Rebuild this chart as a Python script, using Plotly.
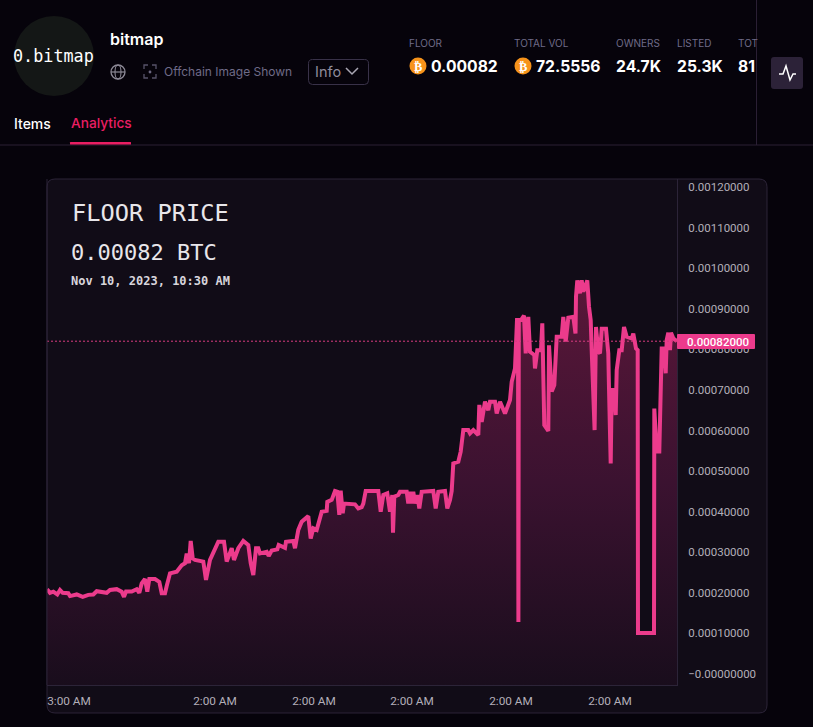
"""Floor price chart for the bitmap collection page."""

import plotly.graph_objects as go

WIDTH = 813
HEIGHT = 727

PAGE_BG = "#06030b"
CARD_BG = "#110c17"
BORDER = "#2c2438"
PINK = "#ec3b8c"
MUTED = "#6f6b88"
UI_FONT = "Inter"
MONO_FONT = "DejaVu Sans Mono"

# time in chart steps from the left edge, price in 1e-5 BTC
time_steps = [
    0, 3, 6.3, 10.3, 13, 15.7, 21.3, 23, 29.7, 35.7, 41.3, 46.3, 49.7, 56.3, 59.7, 63, 69.7, 74.7, 77, 79,
    84.7, 89.7, 92.3, 94.7, 98, 100.3, 102.3, 108, 112.3, 114.7, 118, 119.7, 123, 129.7, 134.7, 138, 139.7,
    142, 143.7, 145.7, 148, 156.3, 159, 163, 166.3, 171.3, 177, 179.7, 184.7, 187, 191.3, 196.3, 201.3,
    203.7, 206.3, 209, 211.3, 213, 219.7, 221.7, 224.7, 230.3, 231.7, 238, 239, 246.3, 248, 251.3, 254.7,
    261.3, 263.7, 266.3, 269.7, 274.7, 279.7, 280.3, 284.7, 288, 290.3, 292.3, 293.7, 295.7, 297, 308,
    311.3, 314.7, 316.3, 318.7, 331.3, 333.7, 336.3, 340.3, 343, 345.3, 346, 347.3, 351.3, 353, 359.7,
    361.3, 363, 364.7, 366.3, 368, 370.3, 372.3, 374.7, 386.3, 388.7, 391.3, 398, 400.3, 403, 404.7, 406.3,
    411.3, 413.7, 416.3, 421.3, 423, 426.3, 429.7, 431.3, 432.3, 434.7, 438, 441.3, 443, 448, 449.7, 453,
    458, 463, 464.7, 468, 470, 471, 471.4, 471.8, 474, 477, 478.7, 481.3, 483, 487.3, 488, 490.3, 494,
    495.3, 497.3, 501.3, 502, 504.7, 507.3, 509.7, 514.7, 516.3, 518.7, 521.3, 526.3, 528.5, 529, 530.3,
    533, 534.7, 536.3, 540.3, 542, 543.7, 544.7, 547, 547.6, 549, 551.3, 553, 554.7, 559, 561.3, 562, 563.7,
    564.7, 567, 568.7, 569.7, 572.3, 574.7, 577, 579.7, 584.7, 586.3, 589, 590.7, 591, 607, 607.3, 609.7,
    612.3, 613, 614.7, 617, 618.7, 619.7, 621.3, 623, 624, 626.3, 629, 630,
]
floor_price = [
    20.9, 20.0, 20.3, 19.6, 20.7, 20.0, 19.9, 19.2, 19.6, 19.0, 19.5, 19.6, 20.4, 20.3, 20.0, 20.7, 20.9, 20.3, 19.0, 20.3,
    20.3, 20.9, 20.0, 22.3, 23.4, 20.3, 23.4, 23.4, 22.7, 19.9, 19.9, 21.7, 24.8, 25.2, 26.8, 27.3, 29.7,
    27.3, 32.8, 28.5, 28.1, 27.7, 23.2, 28.1, 30.1, 32.6, 32.6, 27.7, 31.0, 28.1, 31.0, 32.8, 31.8,
    27.3, 24.4, 31.0, 31.0, 29.7, 30.1, 29.1, 30.4, 30.7, 31.8, 31.1, 32.6, 32.8, 31.0, 35.5, 37.5,
    38.9, 33.4, 35.9, 35.5, 40.0, 40.2, 42.4, 42.9, 45.1, 44.9, 39.2, 45.2, 39.6, 42.0, 41.8,
    40.8, 41.1, 42.0, 45.1, 45.1, 40.0, 44.1, 44.5, 40.0, 44.1, 34.8, 43.7, 44.1, 44.9, 44.9,
    42.0, 44.9, 42.0, 44.9, 42.0, 44.1, 40.8, 44.9, 45.1, 40.8, 44.9, 45.1, 40.8, 42.9, 45.1, 51.9,
    52.3, 54.8, 60.1, 60.1, 59.3, 60.1, 59.3, 58.9, 66.3, 62.1, 67.1, 65.0, 67.1, 67.1, 64.2, 67.1,
    64.2, 67.5, 72.0, 75.3, 87.2, 87.2, 12.8, 87.2, 87.2, 88.3, 79.0, 88.0, 79.4, 78.6, 75.3, 79.8, 79.8,
    86.4, 61.3, 59.9, 81.0, 69.6, 71.2, 83.1, 83.1, 88.0, 81.9, 87.8, 88.0, 83.9, 93.0, 97.0,
    93.8, 97.0, 94.2, 97.0, 90.5, 87.2, 79.8, 60.1, 60.1, 85.5, 79.4, 79.0, 85.1, 85.1, 79.0, 70.4, 51.9,
    70.0, 70.0, 63.8, 74.9, 79.8, 79.8, 85.5, 83.1, 82.7, 83.9, 80.2, 79.8, 10.1, 10.1, 65.4, 54.8,
    54.8, 60.1, 80.2, 80.2, 74.1, 82.3, 84.1, 79.8, 84.1, 82.7, 82.3, 82.0,
]

x_tick_steps = [22, 168, 267, 365, 464, 563]
x_tick_labels = ["3:00 AM", "2:00 AM", "2:00 AM", "2:00 AM", "2:00 AM", "2:00 AM"]
y_tick_values = [0.0012, 0.0011, 0.0010, 0.0009, 0.0008, 0.0007, 0.0006, 0.0005, 0.0004, 0.0003, 0.0002, 0.0001, 0.0]
y_tick_labels = [
    "0.00120000", "0.00110000", "0.00100000", "0.00090000", "0.00080000", "0.00070000", "0.00060000",
    "0.00050000", "0.00040000", "0.00030000", "0.00020000", "0.00010000", "−0.00000000",
]
last_price = 0.00082

stat_labels = ["FLOOR", "TOTAL VOL", "OWNERS", "LISTED", "TOT"]
stat_values = ["0.00082", "72.5556", "24.7K", "25.3K", "81"]
stat_label_left = [409, 514, 616, 677, 738]
stat_value_left = [431, 536, 616, 677, 738]

Y_BOTTOM = -0.0000271
Y_TOP = 0.0012197
X_END = 630


def fx(px):
    return px / WIDTH


def fy(py):
    return 1 - py / HEIGHT


def page_path(points, close=False):
    parts = [f"{'M' if i == 0 else 'L'} {fx(x):.5f} {fy(y):.5f}" for i, (x, y) in enumerate(points)]
    return " ".join(parts) + (" Z" if close else "")


def rounded_rect(x0, y0, x1, y1, r):
    return (
        f"M {fx(x0 + r):.5f} {fy(y0):.5f} L {fx(x1 - r):.5f} {fy(y0):.5f} "
        f"Q {fx(x1):.5f} {fy(y0):.5f} {fx(x1):.5f} {fy(y0 + r):.5f} L {fx(x1):.5f} {fy(y1 - r):.5f} "
        f"Q {fx(x1):.5f} {fy(y1):.5f} {fx(x1 - r):.5f} {fy(y1):.5f} L {fx(x0 + r):.5f} {fy(y1):.5f} "
        f"Q {fx(x0):.5f} {fy(y1):.5f} {fx(x0):.5f} {fy(y1 - r):.5f} L {fx(x0):.5f} {fy(y0 + r):.5f} "
        f"Q {fx(x0):.5f} {fy(y0):.5f} {fx(x0 + r):.5f} {fy(y0):.5f} Z"
    )


def add_path(fig, path, line_color=None, fill=None, width=1, layer="above"):
    fig.add_shape(
        type="path", path=path, xref="paper", yref="paper", layer=layer,
        line={"color": line_color or "rgba(0,0,0,0)", "width": width},
        fillcolor=fill or "rgba(0,0,0,0)",
    )


def add_ellipse(fig, cx, cy, rx, ry, line_color=None, fill=None, width=1, layer="above"):
    fig.add_shape(
        type="circle", xref="paper", yref="paper", layer=layer,
        x0=fx(cx - rx), x1=fx(cx + rx), y0=fy(cy + ry), y1=fy(cy - ry),
        line={"color": line_color or "rgba(0,0,0,0)", "width": width},
        fillcolor=fill or "rgba(0,0,0,0)",
    )


def add_text(fig, text, x, y, size, color, family=UI_FONT, anchor="left", weight=None):
    font = {"family": family, "size": size, "color": color}
    if weight:
        font["weight"] = weight
    fig.add_annotation(
        text=text, x=fx(x), y=fy(y), xref="paper", yref="paper", xanchor=anchor, yanchor="middle",
        showarrow=False, font=font, borderpad=0, borderwidth=0,
    )


fig = go.Figure()

# invisible floor so the area runs to the bottom of the pane, below zero
fig.add_trace(go.Scatter(
    x=[0, X_END], y=[Y_BOTTOM, Y_BOTTOM], mode="lines", line={"width": 0, "color": "rgba(0,0,0,0)"},
    hoverinfo="skip", showlegend=False,
))
fig.add_trace(go.Scatter(
    x=time_steps, y=[v / 1e5 for v in floor_price], mode="lines",
    line={"color": PINK, "width": 4},
    fill="tonexty",
    fillgradient={
        "type": "vertical",
        "colorscale": [[0.0, "#190d1c"], [0.5, "#3b1230"], [1.0, "#5a1739"]],
    },
    hovertemplate="%{y:.8f} BTC<extra></extra>", showlegend=False,
))

# card behind the chart
add_path(fig, rounded_rect(47, 179, 767, 713, 8), line_color=BORDER, fill=CARD_BG, layer="below")

# crosshair price line and label
fig.add_shape(
    type="line", xref="x", yref="y", x0=0, x1=X_END, y0=last_price, y1=last_price,
    line={"color": "#d83c80", "width": 1, "dash": "2px,2px"},
)
add_path(fig, rounded_rect(677, 334, 755, 349, 1), fill=PINK)
add_text(fig, f"{last_price:.8f}", 687, 341.5, 11.5, "#ffffff", family="Roboto", weight=500)
add_path(fig, page_path([(47, 179), (47, 685)]), line_color=BORDER)

add_text(fig, "FLOOR PRICE", 71.5, 213, 23.7, "#e8e6ea", family=MONO_FONT)
add_text(fig, f"{last_price:.5f} BTC", 71, 252, 22, "#e8e6ea", family=MONO_FONT)
add_text(fig, "Nov 10, 2023, 10:30 AM", 71, 281, 12, "#d8d5dc", family=MONO_FONT, weight=700)

# page header
add_ellipse(fig, 54, 56, 40, 40, fill="#141716")
add_text(fig, "0.bitmap", 53.5, 56, 16.8, "#ffffff", family=MONO_FONT, anchor="center")
add_text(fig, "bitmap", 110, 39, 16, "#ffffff", weight=600)

# globe icon
add_ellipse(fig, 118, 72, 7, 7, line_color="#8d8a97", width=1.3)
add_path(fig, page_path([(111, 72), (125, 72)]), line_color="#8d8a97", width=1.2)
add_ellipse(fig, 118, 72, 3, 7, line_color="#8d8a97", width=1.1)

# offchain image icon
for cx, cy, dx, dy in [(144, 65, 1, 1), (156, 65, -1, 1), (144, 78, 1, -1), (156, 78, -1, -1)]:
    add_path(fig, page_path([(cx + 4 * dx, cy), (cx, cy), (cx, cy + 4 * dy)]), line_color="#57536a", width=1.3)
add_ellipse(fig, 150, 72, 1.4, 1.4, fill="#6b6780")
add_text(fig, "Offchain Image Shown", 164, 72, 12, MUTED)

add_path(fig, rounded_rect(308.5, 59.5, 368.5, 84.5, 4), line_color="#393249")
add_text(fig, "Info", 315, 72, 14.5, "#8f8c9c")
add_path(fig, page_path([(346, 68), (352, 74), (358, 68)]), line_color="#a9a6b3", width=1.5)

add_text(fig, "Items", 14, 123, 14, "#ffffff", weight=500)
add_text(fig, "Analytics", 70.5, 123, 13.7, "#e91e63", weight=500)
add_path(fig, page_path([(0, 145), (813, 145)]), line_color="#2b2035", width=1)
add_path(fig, rounded_rect(70, 142, 131, 144.5, 0.5), fill="#e91e63")

add_path(fig, page_path([(756.5, 0), (756.5, 145)]), line_color="#2b2035", width=1)
add_path(fig, rounded_rect(771, 57, 803, 89, 3), fill="#2c2238")
add_path(
    fig,
    page_path([(779, 74), (783, 74), (786, 66), (790, 80), (793, 74), (796, 74)]),
    line_color="#ffffff", width=1.5,
)

for label, value, label_left, value_left in zip(stat_labels, stat_values, stat_label_left, stat_value_left):
    add_text(fig, label, label_left, 43, 10, MUTED)
    add_text(fig, value, value_left, 66, 15.7, "#ffffff", weight=700)

for cx in [418, 523]:
    add_ellipse(fig, cx, 66, 8.5, 8.5, fill="#f7931a")
    add_text(fig, "₿", cx, 66, 12.5, "#ffffff", family="DejaVu Sans", anchor="center", weight=700)

fig.update_layout(
    width=WIDTH,
    height=HEIGHT,
    margin={"l": 0, "r": 0, "t": 0, "b": 0},
    paper_bgcolor=PAGE_BG,
    plot_bgcolor="rgba(0,0,0,0)",
    showlegend=False,
    xaxis={
        "domain": [fx(47), fx(677)],
        "range": [0, X_END],
        "tickmode": "array",
        "tickvals": x_tick_steps,
        "ticktext": x_tick_labels,
        "showgrid": False,
        "zeroline": False,
        "showline": True,
        "linecolor": BORDER,
        "ticks": "outside",
        "ticklen": 5,
        "tickcolor": "rgba(0,0,0,0)",
        "tickfont": {"family": "Roboto", "size": 11.8, "color": "#b3afb9"},
        "anchor": "y",
    },
    yaxis={
        "domain": [fy(685), fy(179)],
        "range": [Y_BOTTOM, Y_TOP],
        "side": "right",
        "tickmode": "array",
        "tickvals": y_tick_values,
        "ticktext": y_tick_labels,
        "showgrid": False,
        "zeroline": False,
        "showline": True,
        "linecolor": BORDER,
        "ticks": "outside",
        "ticklen": 8,
        "tickcolor": "rgba(0,0,0,0)",
        "tickfont": {"family": "Roboto", "size": 11.5, "color": "#b3afb9"},
        "anchor": "x",
    },
)

fig.write_html(
    "out.html",
    config={"displayModeBar": False},
    post_script="document.body.style.margin='0';document.body.style.background='" + PAGE_BG + "';document.body.style.overflow='hidden';",
)
